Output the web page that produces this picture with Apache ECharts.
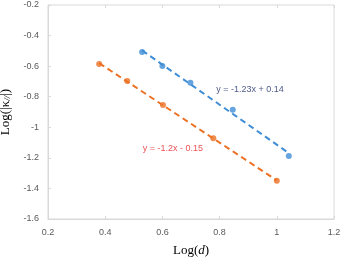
<!DOCTYPE html>
<html><head><meta charset="utf-8">
<script src="https://cdn.jsdelivr.net/npm/echarts@6/dist/echarts.min.js"></script>
<style>html,body{margin:0;padding:0;background:#fff}#c{width:342px;height:258px}</style>
</head><body><div id="c"></div>
<script>
// Data
const blueX = [0.529, 0.600, 0.698, 0.846, 1.042];
const blueY = [-0.507, -0.599, -0.708, -0.885, -1.188];
const orangeX = [0.379, 0.477, 0.602, 0.778, 1.000];
const orangeY = [-0.586, -0.697, -0.854, -1.072, -1.349];
const blueLabel = 'y = -1.23x + 0.14';
const orangeLabel = 'y = -1.2x - 0.15';
const blueLabelPos = [0.906, -0.750];
const orangeLabelPos = [0.637, -1.136];

const BLUE = '#3f8dd6', ORANGE = '#ec7022';
const pts = (xs, ys) => xs.map((x, i) => [x, ys[i]]);
// least-squares trendline over the data range
const fitLine = (xs, ys) => {
  const n = xs.length, mx = xs.reduce((a, b) => a + b) / n, my = ys.reduce((a, b) => a + b) / n;
  let sxy = 0, sxx = 0;
  xs.forEach((x, i) => { sxy += (x - mx) * (ys[i] - my); sxx += (x - mx) * (x - mx); });
  const k = sxy / sxx, b = my - k * mx;
  const a0 = Math.min(...xs), a1 = Math.max(...xs);
  return [[a0, k * a0 + b], [a1, k * a1 + b]];
};
const axisCol = '#d9d9d9';
const chart = echarts.init(document.getElementById('c'), null, {renderer: 'canvas'});
chart.setOption({
  animation: false,
  grid: {left: 48, right: 8, top: 5, bottom: 39, show: true, borderColor: axisCol, borderWidth: 1,
    containLabel: false, outerBoundsMode: 'none'},
  xAxis: [{
    type: 'value', min: 0.2, max: 1.2, interval: 0.2,
    axisLine: {show: true, onZero: false, lineStyle: {color: axisCol}},
    axisTick: {show: true, inside: true, length: 3, lineStyle: {color: axisCol}},
    splitLine: {show: false},
    axisLabel: {color: '#595959', fontSize: 9, fontFamily: 'Liberation Sans', margin: 9,
      formatter: v => String(+v.toFixed(1))},
    name: 'Log({i|d})', nameLocation: 'middle', nameGap: 25,
    nameTextStyle: {color: '#000', fontSize: 13, fontFamily: 'Liberation Serif',
      rich: {i: {fontStyle: 'italic', fontSize: 13, fontFamily: 'Liberation Serif', color: '#000'}}}
  }, {
    type: 'value', position: 'top', min: 0.2, max: 1.2, interval: 0.2,
    axisLine: {show: false}, axisLabel: {show: false}, splitLine: {show: false},
    axisTick: {show: true, inside: true, length: 3, lineStyle: {color: axisCol}}
  }],
  yAxis: {
    type: 'value', min: -1.6, max: -0.2, interval: 0.2,
    axisLine: {show: true, onZero: false, lineStyle: {color: axisCol}},
    axisTick: {show: true, inside: true, length: 3, lineStyle: {color: axisCol}},
    splitLine: {show: false},
    axisLabel: {color: '#595959', fontSize: 9, fontFamily: 'Liberation Sans', margin: 9,
      formatter: v => String(+v.toFixed(1))},
    name: 'Log(|κ{s|//}|)', nameLocation: 'middle', nameGap: 34,
    nameTextStyle: {color: '#000', fontSize: 13, fontFamily: 'Liberation Serif',
      rich: {s: {fontStyle: 'italic', fontSize: 9, fontFamily: 'Liberation Serif', color: '#000', padding: [6, 0, 0, 0]}}}
  },
  series: [
    {type: 'line', data: fitLine(blueX, blueY), symbol: 'none', silent: true,
      lineStyle: {color: BLUE, width: 2, type: [6, 4]}, z: 2},
    {type: 'line', data: fitLine(orangeX, orangeY), symbol: 'none', silent: true,
      lineStyle: {color: ORANGE, width: 2, type: [6, 4]}, z: 2},
    {type: 'scatter', data: pts(blueX, blueY), symbol: 'circle', symbolSize: 6,
      itemStyle: {color: BLUE}, z: 3},
    {type: 'scatter', data: pts(orangeX, orangeY), symbol: 'circle', symbolSize: 6,
      itemStyle: {color: ORANGE}, z: 3},
    {type: 'scatter', data: [blueLabelPos], symbolSize: 0, silent: true,
      label: {show: true, position: 'inside', formatter: blueLabel, color: '#1f2f6b',
        fontSize: 9, fontFamily: 'Liberation Sans'}},
    {type: 'scatter', data: [orangeLabelPos], symbolSize: 0, silent: true,
      label: {show: true, position: 'inside', formatter: orangeLabel, color: '#e8262b',
        fontSize: 9, fontFamily: 'Liberation Sans'}}
  ]
});
</script></body></html>
